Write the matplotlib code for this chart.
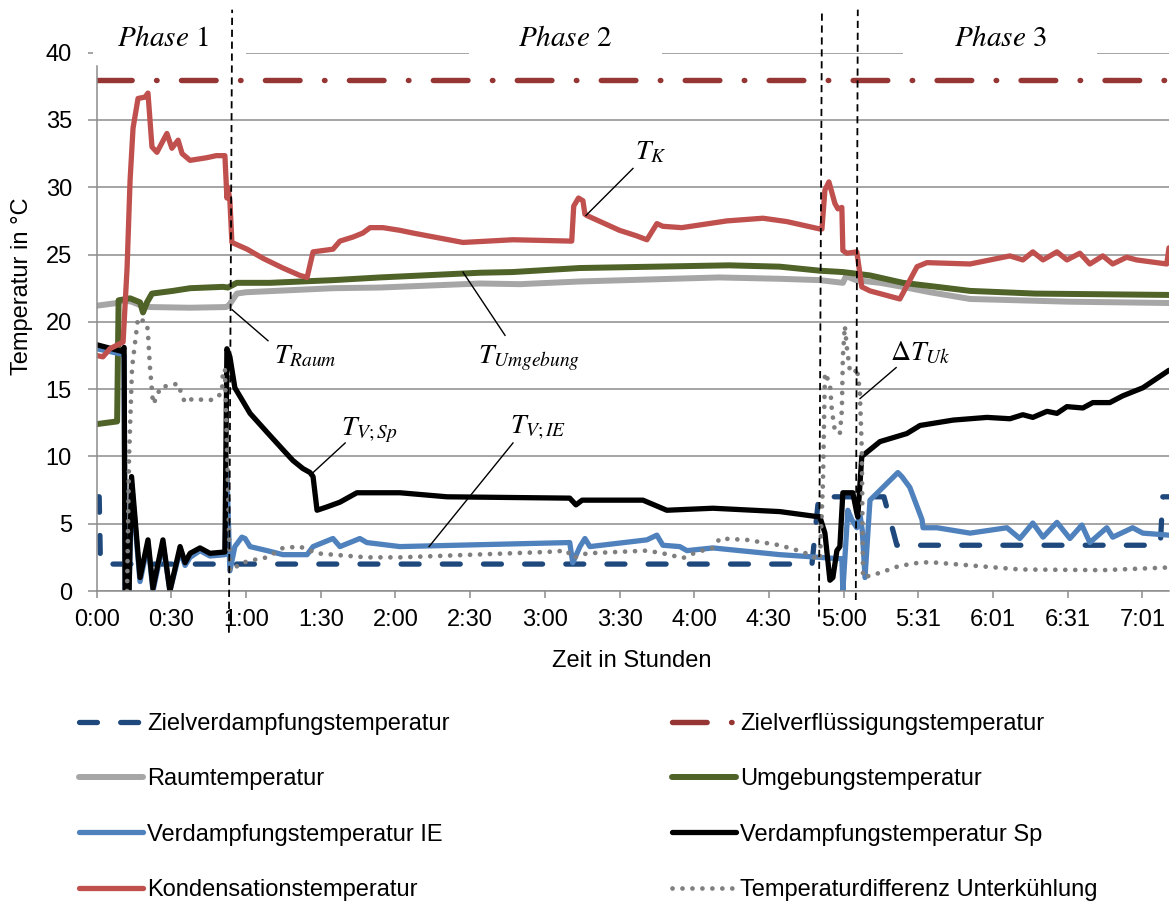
import matplotlib
matplotlib.use("Agg")
import matplotlib.pyplot as plt
from matplotlib.patches import Rectangle

plt.rcParams["font.family"] = ["Liberation Sans", "DejaVu Sans"]
plt.rcParams["mathtext.fontset"] = "stix"

# ---- axes -------------------------------------------------------------
x_ticks = [0, 30, 60, 90, 120, 150, 180, 210, 240, 270, 300, 330, 360, 390, 420]
x_labels = ["0:00", "0:30", "1:00", "1:30", "2:00", "2:30", "3:00", "3:30",
            "4:00", "4:30", "5:00", "5:31", "6:01", "6:31", "7:01"]
y_ticks = [0, 5, 10, 15, 20, 25, 30, 35, 40]
x_max = 430.7

# ---- series (time in minutes, temperature in °C) ----------------------
t_ziel_v = [0, 1.0, 1.5, 287.3, 290.0, 316.2, 321.4, 427.2, 428.2, 430.7]
ziel_v = [7, 7, 2, 2, 7, 7, 3.4, 3.4, 7, 7]

t_ziel_f = [0, 430.7]
ziel_f = [38, 38]

t_raum = [0, 8.2, 10.6, 14, 18, 21.4, 37.5, 51.9, 53.0, 56.3, 60, 95, 113.8,
          154, 170, 194, 250, 274.4, 290.5, 299.7, 301.0, 305.0, 314.6, 323.8,
          334.7, 350.8, 390, 430.7]
raum = [21.2, 21.4, 21.6, 21.5, 21.2, 21.1, 21.05, 21.1, 21.2, 22.1, 22.2, 22.5,
        22.55, 22.85, 22.8, 23.0, 23.3, 23.2, 23.1, 22.9, 23.4, 23.1, 22.9, 22.6,
        22.2, 21.7, 21.5, 21.4]

t_umg = [0, 4, 8.2, 8.8, 13.4, 17.4, 18.6, 20.2, 22.2, 30.6, 37.5, 50.7, 52.7,
         56.3, 69.6, 95, 113.8, 154, 167, 194, 254, 274.4, 290.5, 299.7, 310.6,
         323.8, 337.5, 350.8, 377, 430.7]
umg = [12.4, 12.5, 12.6, 21.6, 21.75, 21.45, 20.7, 21.45, 22.1, 22.3, 22.5, 22.6,
       22.55, 22.9, 22.9, 23.1, 23.3, 23.65, 23.7, 24.0, 24.2, 24.1, 23.8, 23.7,
       23.45, 22.9, 22.6, 22.3, 22.1, 22.0]

t_v_ie = [0, 10.2, 11.0, 11.4, 13.0, 14.0, 17.4, 20.6, 22.6, 26.6, 29.4, 33.5,
          35.5, 37.5, 41.5, 45.5, 51.5, 52.3, 53.5, 55.5, 58.3, 59.6, 61.6, 68.4,
          74.8, 84.5, 86.9, 94.9, 97.7, 105.7, 108.5, 121.8, 190.0, 191.2, 194.1,
          196.1, 198.1, 221.0, 225.0, 227.4, 234.2, 237.1, 247.5, 274.4, 290.5,
          294.1, 299.3, 299.7, 301.7, 303.3, 305.3, 306.5, 307.5, 308.6, 310.6,
          315.8, 321.8, 323.4, 326.6, 331.5, 331.9, 337.5, 350.8, 365.6, 370.8,
          376.0, 380.1, 385.7, 390.9, 395.7, 398.9, 405.7, 408.1, 416.1, 420.2,
          430.7]
v_ie = [18.0, 17.6, 17.5, 0.0, 0.0, 8.0, 0.7, 3.5, 0.0, 3.5, 0.0, 3.0,
        1.9, 2.5, 3.0, 2.6, 2.7, 8.8, 1.5, 3.3, 4.0, 3.9, 3.3, 3.0,
        2.7, 2.7, 3.3, 3.9, 3.3, 3.9, 3.6, 3.3, 3.6, 2.1, 3.3,
        3.9, 3.3, 3.8, 4.15, 3.4, 3.3, 3.0, 3.2, 2.7, 2.5,
        2.45, 2.4, 0.0, 6.0, 5.3, 4.7, 5.8, 4.5, 1.0, 6.75,
        7.7, 8.8, 8.5, 7.7, 5.3, 4.7, 4.7, 4.3, 4.7, 3.9,
        5.05, 4.0, 5.1, 3.9, 4.9, 3.6, 4.7, 4.0, 4.7, 4.3,
        4.15]

t_v_sp = [0, 10.2, 11.0, 11.4, 13.0, 14.0, 17.4, 20.6, 22.6, 26.6, 29.4, 33.5,
          35.5, 37.5, 41.5, 45.5, 51.5, 52.3, 53.5, 55.5, 61.6, 68.4, 74.8, 78.8,
          82.8, 85.7, 86.9, 88.5, 92.5, 97.7, 104.5, 121.8, 140.7, 190.0, 192.5,
          195.0, 219.4, 229.0, 247.5, 274.4, 290.5, 292.5, 294.5, 295.7, 297.3,
          298.5, 299.7, 303.7, 305.3, 305.7, 307.3, 314.6, 325.4, 330.7, 344.0,
          357.6, 366.8, 372.0, 376.0, 381.7, 385.7, 389.7, 396.1, 400.1, 406.9,
          412.1, 420.2, 430.7]
v_sp = [18.3, 17.8, 18.1, 0.0, 0.0, 8.5, 1.0, 3.8, 0.2, 3.8, 0.0, 3.3,
        2.1, 2.8, 3.2, 2.8, 2.9, 18.0, 17.4, 15.1, 13.2, 11.8, 10.5, 9.7,
        9.1, 8.8, 8.5, 6.0, 6.25, 6.6, 7.3, 7.3, 7.0, 6.9, 6.4,
        6.75, 6.75, 6.0, 6.15, 5.9, 5.5, 4.3, 0.8, 1.0, 3.0,
        3.3, 7.3, 7.3, 5.8, 5.5, 10.0, 11.1, 11.7, 12.3, 12.7,
        12.9, 12.8, 13.1, 12.9, 13.35, 13.2, 13.7, 13.6, 14.0, 14.0,
        14.5, 15.1, 16.4]

t_kond = [0, 2.5, 5.3, 10.6, 12.2, 13.4, 14.6, 16.6, 19.4, 20.6, 22.2, 24.2,
          28.2, 30.2, 32.7, 34.3, 37.5, 44.3, 48.0, 51.5, 52.3, 52.7, 53.5, 54.3,
          60.4, 67.0, 74.8, 81.6, 84.5, 86.9, 94.9, 97.7, 102.9, 106.9, 109.8,
          115.0, 121.8, 127.0, 147.1, 167.2, 190.8, 191.6, 193.5, 195.3, 196.1,
          196.9, 210.0, 216.7, 221.0, 225.0, 227.4, 235.0, 253.1, 267.6, 277.2,
          290.5, 291.3, 292.5, 294.1, 296.5, 297.7, 299.3, 299.7, 301.3, 305.3,
          307.3, 310.6, 322.6, 329.5, 333.5, 350.8, 366.8, 372.0, 376.0, 380.1,
          385.7, 389.7, 394.9, 398.9, 404.1, 408.1, 413.7, 417.7, 429.8, 430.7]
kond = [17.5, 17.4, 18.0, 18.5, 24.0, 30.5, 34.4, 36.6, 36.7, 37.0, 33.0, 32.6,
        34.0, 32.9, 33.5, 32.5, 32.0, 32.2, 32.35, 32.35, 29.2, 30.0, 29.0, 25.9,
        25.4, 24.7, 24.0, 23.45, 23.3, 25.2, 25.4, 26.0, 26.3, 26.6, 27.0,
        27.0, 26.8, 26.6, 25.9, 26.1, 26.0, 28.6, 29.2, 29.0, 28.0,
        27.9, 26.8, 26.4, 26.1, 27.3, 27.1, 27.0, 27.5, 27.7, 27.45,
        26.9, 26.9, 29.8, 30.4, 28.8, 28.4, 28.5, 25.3, 25.1, 25.2,
        22.6, 22.3, 21.7, 24.1, 24.4, 24.3, 24.9, 24.6, 25.2, 24.6,
        25.2, 24.6, 25.1, 24.3, 24.9, 24.3, 24.8, 24.6, 24.3, 25.5]

t_uk = [12.2, 13.0, 14.2, 16.6, 20.2, 20.6, 21.4, 22.2, 22.6, 24.2, 25.4, 29.4,
        32.7, 34.3, 35.5, 38.7, 42.7, 46.7, 50.3, 50.7, 51.5, 52.7, 53.5, 54.7,
        57.5, 62.8, 68.4, 74.8, 81.6, 88.5, 94.9, 108.5, 121.8, 180.8, 188.8,
        191.2, 196.9, 221.0, 227.4, 235.5, 241.1, 247.5, 250.3, 261.1, 274.4,
        283.7, 290.5, 291.7, 292.5, 294.5, 295.3, 296.5, 298.5, 299.3, 299.7,
        300.5, 301.3, 302.5, 304.5, 305.3, 306.5, 307.3, 307.8, 314.6, 321.4,
        327.8, 334.7, 337.5, 357.6, 370.8, 404.1, 430.7]
uk = [0.0, 10.0, 16.6, 20.3, 19.9, 19.1, 16.6, 14.9, 13.9, 14.4, 15.1, 15.3,
      15.4, 14.5, 14.0, 14.3, 14.2, 14.2, 14.7, 16.4, 16.5, 8.0, 1.5, 1.55,
      2.05, 2.3, 2.5, 3.2, 3.3, 2.8, 2.7, 2.5, 2.5, 2.9, 3.0,
      2.45, 2.8, 3.0, 2.8, 2.45, 2.9, 3.2, 3.9, 3.8, 3.4,
      2.9, 2.3, 8.0, 16.2, 15.4, 13.4, 11.9, 11.7, 13.4, 17.4,
      19.7, 18.1, 16.4, 16.2, 16.6, 14.9, 10.5, 1.0, 1.35, 1.8,
      2.05, 2.15, 2.1, 1.8, 1.6, 1.55, 1.75]

labels = ["Zielverdampfungstemperatur", "Zielverflüssigungstemperatur",
          "Raumtemperatur", "Umgebungstemperatur",
          "Verdampfungstemperatur IE", "Verdampfungstemperatur Sp",
          "Kondensationstemperatur", "Temperaturdifferenz Unterkühlung"]

# ---- figure -----------------------------------------------------------
W, H = 1173, 902
fig = plt.figure(figsize=(W / 100, H / 100), dpi=100)
ax = fig.add_axes([96.7 / W, 1 - 591 / H, (1169 - 96.7) / W, (591 - 52.7) / H])

grid_c = "#8C8C8C"
common = dict(solid_joinstyle="round", solid_capstyle="round")

h_zv, = ax.plot(t_ziel_v, ziel_v, color="#1F497D", lw=3.8,
                linestyle=(0, (3.4, 4.4)), dash_capstyle="round", label=labels[0])
h_zf, = ax.plot(t_ziel_f, ziel_f, color="#963634", lw=3.9,
                linestyle=(0, (6.4, 4.5, 0.1, 4.5)), dash_capstyle="round",
                label=labels[1])
h_ra, = ax.plot(t_raum, raum, color="#A6A6A6", lw=4.3, label=labels[2], **common)
h_um, = ax.plot(t_umg, umg, color="#4F6228", lw=4.3, label=labels[3], **common)
h_ie, = ax.plot(t_v_ie, v_ie, color="#4F81BD", lw=3.8, label=labels[4], **common)
h_sp, = ax.plot(t_v_sp, v_sp, color="black", lw=3.8, label=labels[5], **common)
h_ko, = ax.plot(t_kond, kond, color="#C0504D", lw=3.8, label=labels[6], **common)
h_uk, = ax.plot(t_uk, uk, color="#7F7F7F", lw=3.4, linestyle=(0, (0.01, 2.1)),
                dash_capstyle="round", label=labels[7])

ax.set_xlim(0, x_max)
ax.set_ylim(0, 40)
ax.set_xticks(x_ticks)
ax.set_xticklabels(x_labels)
ax.set_yticks(y_ticks)
ax.tick_params(axis="both", labelsize=17, colors=grid_c, labelcolor="black")
ax.tick_params(axis="y", length=6.3, width=1.1, pad=11.5)
ax.tick_params(axis="x", length=5, width=1.1, pad=8)
ax.yaxis.grid(True, color=grid_c, lw=1.1, zorder=0)
ax.set_axisbelow(True)
for s in ("top", "right"):
    ax.spines[s].set_visible(False)
for s in ("left", "bottom"):
    ax.spines[s].set_color(grid_c)
    ax.spines[s].set_linewidth(1.1)
ax.spines["left"].set_bounds(0, 39)

# white gaps in the top gridline behind the phase titles
for x0, x1 in [(-1.5, 60.0), (149.5, 226.9), (323.8, 401.7)]:
    ax.add_patch(Rectangle((x0, 39.3), x1 - x0, 1.3, facecolor="white",
                           edgecolor="none", zorder=2.5, clip_on=False))

phase_y = 41.1
for xc, txt in [(26.6, r"$Phase\ 1$"), (188.1, r"$Phase\ 2$"), (362.8, r"$Phase\ 3$")]:
    ax.text(xc, phase_y, txt, fontsize=21, ha="center", va="center", zorder=6,
            clip_on=False)

# phase boundaries
for (xb, yb), (xt, yt) in [((53.1, -3.1), (54.4, 43.2)),
                           ((290.1, -1.9), (291.3, 43.1)),
                           ((304.9, -0.67), (305.7, 43.2))]:
    ax.plot([xb, xt], [yb, yt], color="black", lw=1.3, linestyle=(0, (4, 2.6)),
            clip_on=False, zorder=7)

# curve labels with leader lines
notes = [
    (r"$T_K$", (222.4, 32.6), (215.4, 31.4), (196.5, 27.9)),
    (r"$T_{Raum}$", (83.7, 17.4), (68.8, 18.6), (54.4, 20.9)),
    (r"$T_{Umgebung}$", (173.6, 17.3), (164.0, 19.0), (147.1, 23.7)),
    (r"$T_{V;Sp}$", (109.4, 11.95), (99.8, 11.0), (86.9, 8.8)),
    (r"$T_{V;IE}$", (177.2, 12.1), (167.2, 11.0), (133.5, 3.3)),
    (r"$\Delta T_{Uk}$", (330.7, 17.7), (321.1, 16.6), (306.6, 14.3)),
]
for txt, (tx, ty), (x1, y1), (x2, y2) in notes:
    ax.text(tx, ty, txt, fontsize=20, ha="center", va="center", zorder=8)
    ax.plot([x1, x2], [y1, y2], color="black", lw=1.0, zorder=8)

fig.text(22 / W, 1 - 286 / H, "Temperatur in °C", rotation=90, fontsize=17,
         ha="center", va="center")
fig.text(632 / W, 1 - 661 / H, "Zeit in Stunden", fontsize=17,
         ha="center", va="center")

leg_kw = dict(frameon=False, fontsize=17, handlelength=2.7, handletextpad=0.2,
              labelspacing=1.41, borderpad=0, borderaxespad=0, loc="upper left")
leg1 = fig.legend([h_zv, h_ra, h_ie, h_ko],
                  [labels[0], labels[2], labels[4], labels[6]],
                  bbox_to_anchor=(79 / W, 1 - 713 / H), **leg_kw)
leg2 = fig.legend([h_zf, h_um, h_sp, h_uk],
                  [labels[1], labels[3], labels[5], labels[7]],
                  bbox_to_anchor=(672 / W, 1 - 713 / H), **leg_kw)

fig.savefig("out.png", dpi=100, facecolor="white")
